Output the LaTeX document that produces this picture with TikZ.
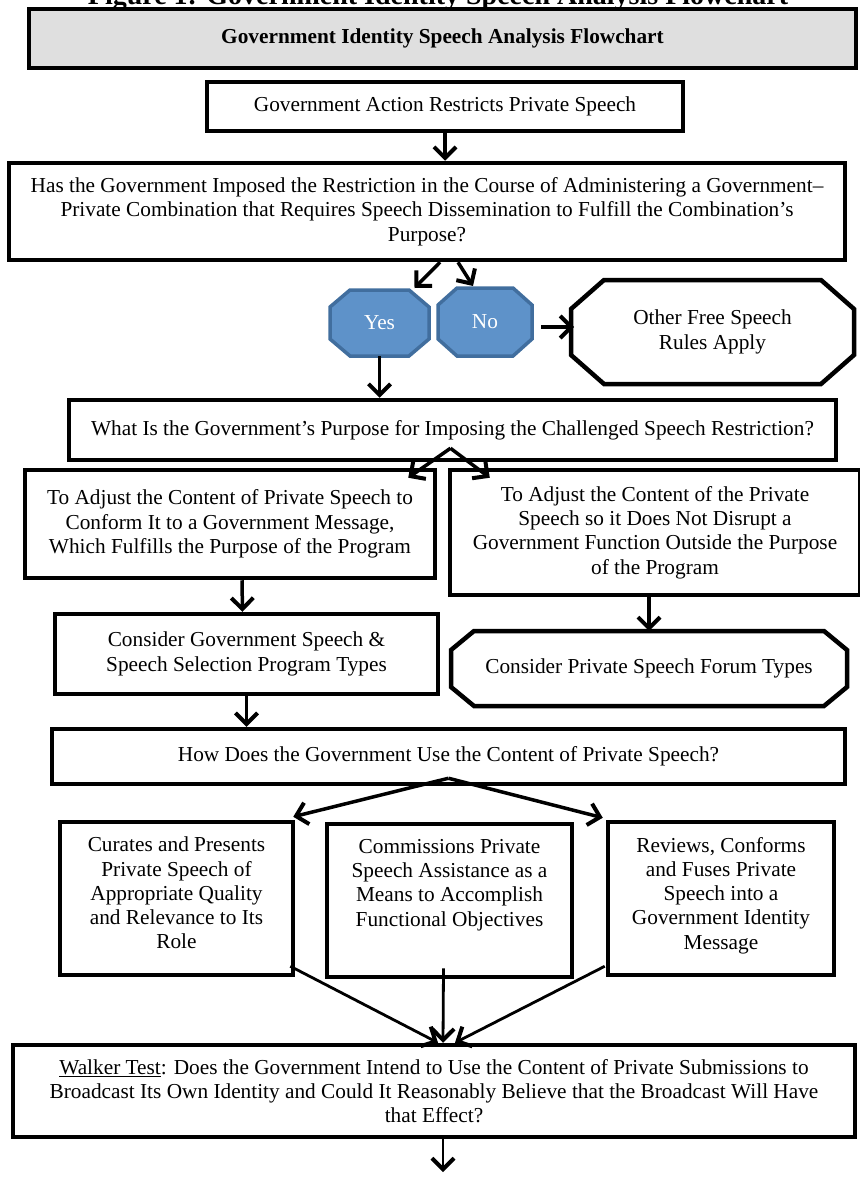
\documentclass[tikz,border=0pt]{standalone}
\usepackage{fontspec}
\setmainfont{Liberation Serif}
\usetikzlibrary{arrows.meta,calc,backgrounds}

\definecolor{titlegray}{RGB}{223,223,223}
\definecolor{answerfill}{RGB}{94,146,201}
\definecolor{answerline}{RGB}{65,110,158}
\newcommand\boxfont{\fontsize{21.3}{24.3}\selectfont}
% outline with cut corners round a named node: [style]{node}{x cut}{y cut}
\newcommand\octagon[4][]{%
  \draw[#1] ($(#2.north west)+(#3,0)$) -- ($(#2.north east)+(-#3,0)$)
    -- ($(#2.north east)+(0,#4)$) -- ($(#2.south east)+(0,-#4)$)
    -- ($(#2.south east)+(-#3,0)$) -- ($(#2.south west)+(#3,0)$)
    -- ($(#2.south west)+(0,-#4)$) -- ($(#2.north west)+(0,#4)$) -- cycle;}

\begin{document}
\begin{tikzpicture}[x=1pt, y=-1pt,
    >={Straight Barb[length=11pt,width=22pt,line width=4pt]},
    every node/.style={font=\boxfont, align=center, inner sep=0pt},
    block/.style={draw, line width=4.5pt, rectangle},
    octa/.style={rectangle, outer sep=0pt},
    answer/.style={octa, text=white},
    flow/.style={->, line width=3.5pt},
    thinflow/.style={->, line width=2.8pt}]
    \useasboundingbox (0,0) rectangle (859,1177);

    % We start by placing the blocks
    \node[anchor=base, font=\fontsize{28}{32}\selectfont\bfseries] (cap) at (438,5)
      {Figure 1: Government Identity Speech Analysis Flowchart};
    \node[block, fill=titlegray, minimum width=827pt, minimum height=59pt,
      font=\boxfont\bfseries] (title) at (442.5,38.5)
      {Government Identity Speech Analysis Flowchart};
    \node[block, minimum width=476pt, minimum height=49pt] (act) at (445,106.5)
      {Government Action Restricts Private Speech};
    \node[block, minimum width=836pt, minimum height=97pt] (has) at (427,211.5)
      {Has the Government Imposed the Restriction in the Course of Administering a Government--\\
       Private Combination that Requires Speech Dissemination to Fulfill the Combination’s\\
       Purpose?};
    \node[answer, minimum width=99pt, minimum height=66pt] (yes) at (379.5,323) {Yes};
    \node[answer, minimum width=94pt, minimum height=68pt] (no) at (485,322) {No};
    \node[octa, minimum width=283pt, minimum height=104pt] (other) at (712.5,332)
      {Other Free Speech\\Rules Apply};
    \node[block, minimum width=767pt, minimum height=60pt] (what) at (452.5,430)
      {What Is the Government’s Purpose for Imposing the Challenged Speech Restriction?};
    \node[block, minimum width=410pt, minimum height=108pt] (conf) at (230,524)
      {To Adjust the Content of Private Speech to\\
       Conform It to a Government Message,\\
       Which Fulfills the Purpose of the Program};
    \node[block, minimum width=410pt, minimum height=125pt] (disr) at (655,532.5)
      {To Adjust the Content of the Private\\
       Speech so it Does Not Disrupt a\\
       Government Function Outside the Purpose\\
       of the Program};
    \node[block, minimum width=383pt, minimum height=80pt] (cgov) at (246.5,654)
      {Consider Government Speech \&\\Speech Selection Program Types};
    \node[octa, minimum width=396pt, minimum height=75pt] (cfor) at (649,668.5)
      {Consider Private Speech Forum Types};
    \node[block, minimum width=793pt, minimum height=55pt] (how) at (448.5,756.5)
      {How Does the Government Use the Content of Private Speech?};
    \node[block, minimum width=233pt, minimum height=153pt] (cur) at (176.5,898.5)
      {\parbox[c][123pt][t]{225pt}{\centering Curates and Presents\\Private Speech of\\
       Appropriate Quality\\and Relevance to Its\\Role}};
    \node[block, minimum width=245pt, minimum height=153pt] (com) at (449.5,900.5)
      {\parbox[c][123pt][t]{237pt}{\centering Commissions Private\\Speech Assistance as a\\
       Means to Accomplish\\Functional Objectives}};
    \node[block, minimum width=226pt, minimum height=153pt] (rev) at (721,898.5)
      {\parbox[c][123pt][t]{218pt}{\centering Reviews, Conforms\\and Fuses Private\\
       Speech into a\\Government Identity\\Message}};
    \node[block, minimum width=842pt, minimum height=92pt] (walk) at (434,1091)
      {\underline{Walker Test}: Does the Government Intend to Use the Content of Private Submissions to\\
       Broadcast Its Own Identity and Could It Reasonably Believe that the Broadcast Will Have\\
       that Effect?};
    \coordinate (fin) at (443,1172);

    % the cut-corner outlines go behind their texts
    \begin{scope}[on background layer]
      \octagon[fill=answerfill, draw=answerline, line width=3.5pt]{yes}{20}{17}
      \octagon[fill=answerfill, draw=answerline, line width=3.5pt]{no}{19}{17}
      \octagon[line width=4.5pt]{other}{33}{29}
      \octagon[line width=4.5pt]{cfor}{23}{19}
    \end{scope}

    % Then the arrows between them
    \draw[flow] (act.south) to (act.south |- has.north);
    \draw[flow] ($(has.south)+(13,0)$) to ($(yes.north)+(35,-2)$);
    \draw[flow] ($(has.south)+(31,0)$) to ($(no.north)+(-12,-2)$);
    \draw[flow] ($(no.east)+(9,5)$) to ($(other.west)+(3,-5)$);
    \draw[flow] (yes.south) to (yes.south |- what.north);
    \draw[flow] ($(what.south)+(-2,-14)$) to ($(conf.north east)+(-29,10)$);
    \draw[flow] ($(what.south)+(-2,-14)$) to ($(disr.north west)+(42,10)$);
    \draw[flow] ($(conf.south)+(12,0)$) to ($(cgov.north)+(-4,0)$);
    \draw[flow] (cfor.north |- disr.south) to (cfor.north);
    \draw[flow] (cgov.south) to (cgov.south |- how.north);
    \draw[flow] ($(how.south)+(0,-8)$) to ($(cur.north east)+(-2,-3)$);
    \draw[flow] ($(how.south)+(0,-8)$) to ($(rev.north west)+(-3,-2)$);
    \draw[thinflow] ($(cur.south east)+(-5,-11)$) to ($(walk.north)+(4,0)$);
    \draw[thinflow] ($(com.south)+(-6,-11)$) to ($(walk.north)+(9,0)$);
    \draw[thinflow] ($(rev.south west)+(-1,-11)$) to ($(walk.north)+(21,0)$);
    \draw[thinflow] ($(walk.south)+(9,0)$) to (fin);
\end{tikzpicture}
\end{document}
